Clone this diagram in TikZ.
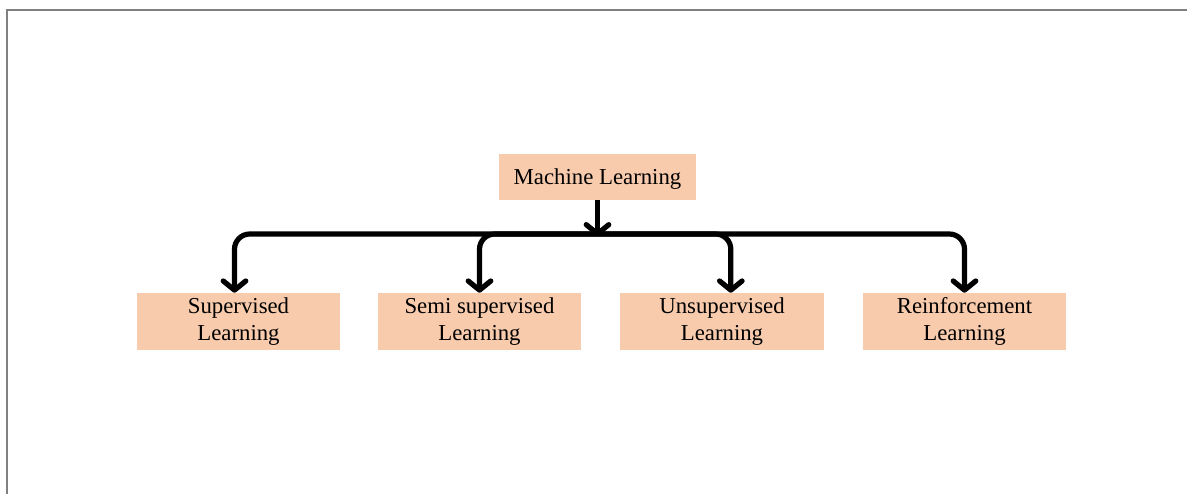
\documentclass[tikz,border=0pt]{standalone}
\usepackage{fontspec}
\setmainfont{Liberation Serif}
\usepackage{tikz}
\usetikzlibrary{positioning, arrows.meta}
\definecolor{peach}{HTML}{F8CBAD}

\tikzset{
  mlbox/.style={fill=peach, minimum width=5.075cm, minimum height=1.425cm, align=center,
    font=\fontsize{16.2}{19.2}\selectfont, inner sep=0pt},
  branch/.style={line width=3.7pt, rounded corners=0.38cm,
    -{Straight Barb[length=6.5pt, width=16pt, round]}}
}

\begin{document}
\begin{tikzpicture}[x=0.025cm, y=-0.025cm]
\useasboundingbox (0, 0) rectangle (1187, 494);
\draw[gray, line width=1.4pt] (7, 494) -- (7, 10) -- (1187, 10);

\node[mlbox, minimum width=4.925cm, minimum height=1.15cm, text depth=0pt] (ml) at (597.5, 177){Machine Learning};
\node[mlbox] (sup) at (238.5, 321.5){Supervised\\Learning};
\node[mlbox] (semi) at (479.5, 321.5){Semi supervised\\Learning};
\node[mlbox] (unsup) at (722, 321.5){Unsupervised\\Learning};
\node[mlbox] (reinf) at (964.5, 321.5){Reinforcement\\Learning};

\coordinate (hub) at (597.5, 234);

\draw[branch] (hub) -| ([xshift=-0.1cm]sup.north);
\draw[branch] (hub) -| (semi.north);
\draw[branch] (hub) -| ([xshift=0.22cm]unsup.north);
\draw[branch] (hub) -| (reinf.north);
\draw[branch] (ml.south) -- ([yshift=-0.06cm]hub);
\end{tikzpicture}
\end{document}
